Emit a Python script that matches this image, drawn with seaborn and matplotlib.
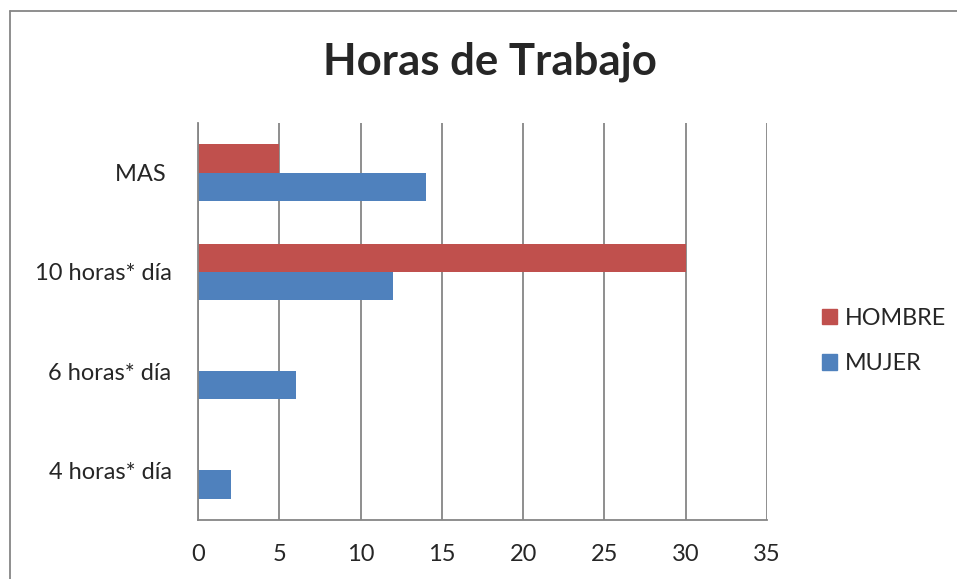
import pandas as pd
import seaborn as sns
import matplotlib.pyplot as plt
from matplotlib.lines import Line2D

# Data
categorias = ["MAS ", "10 horas* día", "6 horas* día", "4 horas* día"]
hombre = [5, 30, 0, 0]
mujer = [14, 12, 6, 2]
series = ["HOMBRE", "MUJER"]
colores = {"HOMBRE": "#C0504D", "MUJER": "#4F81BD"}
xticks = [0, 5, 10, 15, 20, 25, 30, 35]

df = pd.DataFrame({
    "categoria": categorias * 2,
    "valor": hombre + mujer,
    "serie": ["HOMBRE"] * len(categorias) + ["MUJER"] * len(categorias),
})

sns.set_style("white")
plt.rcParams['font.family'] = ['Lato', 'DejaVu Sans']

fig = plt.figure(figsize=(9.57, 5.79), dpi=100)
ax = fig.add_axes([198 / 957, 1 - 520 / 579, (767 - 198) / 957, (520 - 123) / 579])

sns.barplot(data=df, x="valor", y="categoria", hue="serie", order=categorias,
            hue_order=series, palette=colores, orient="h", width=0.57,
            saturation=1, edgecolor="none", ax=ax, legend=False)

ax.set_xlim(0, 35)
ax.set_xticks(xticks)
ax.set_xticklabels([str(t) for t in xticks], fontsize=17)
ax.tick_params(axis="y", labelsize=17, length=0, pad=19)
ax.tick_params(axis="x", length=0, pad=17)
ax.set_xlabel("")
ax.set_ylabel("")
ax.grid(axis="x", color="#868686", linewidth=1.3)
ax.set_axisbelow(True)
for side in ["top", "right"]:
    ax.spines[side].set_visible(False)
for side in ["left", "bottom"]:
    ax.spines[side].set_color("#868686")
    ax.spines[side].set_linewidth(1.3)

fig.text(490 / 957, 1 - 62 / 579, "Horas de Trabajo", fontsize=31.5, fontweight="bold",
         ha="center", va="center")

handles = [plt.Rectangle((0, 0), 1, 1, color=colores[s]) for s in series]
fig.legend(handles, series, loc="center left", bbox_to_anchor=(806 / 957, 1 - 341 / 579),
           frameon=False, fontsize=16.8, handlelength=0.65, handleheight=0.65,
           handletextpad=0.3, labelspacing=1.05, borderpad=0.2)

# chart border
fig.add_artist(Line2D([10 / 957, 10 / 957], [0, 1 - 11 / 579], transform=fig.transFigure,
                      color="#868686", linewidth=1.3))
fig.add_artist(Line2D([10 / 957, 1], [1 - 11 / 579, 1 - 11 / 579], transform=fig.transFigure,
                      color="#868686", linewidth=1.3))

fig.savefig("out.png", dpi=100)
